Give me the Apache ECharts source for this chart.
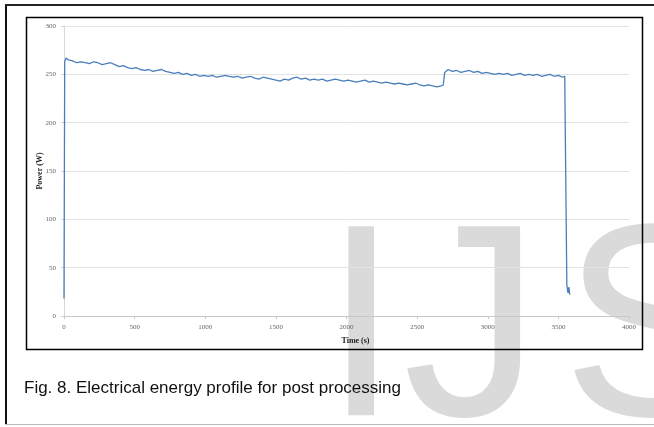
<!DOCTYPE html>
<html>
<head>
<meta charset="utf-8">
<script src="https://cdn.jsdelivr.net/npm/echarts@6/dist/echarts.min.js"></script>
<style>
html,body{margin:0;padding:0;background:#fff;}
#c{width:654px;height:427px;}
</style>
</head>
<body>
<div id="c"></div>
<script>
const times = [0,5,15,30,60,90,120,150,180,210,240,270,300,330,360,390,420,450,480,510,540,570,600,630,660,690,720,750,780,810,840,870,900,930,960,990,1020,1050,1080,1110,1140,1170,1200,1230,1260,1290,1320,1350,1380,1410,1440,1470,1500,1530,1560,1590,1620,1650,1680,1710,1740,1770,1800,1830,1860,1890,1920,1950,1980,2010,2040,2070,2100,2130,2160,2190,2220,2250,2280,2310,2340,2370,2400,2430,2460,2490,2520,2550,2580,2610,2640,2670,2685,2695,2720,2750,2780,2810,2840,2870,2900,2930,2960,2990,3020,3050,3080,3110,3140,3170,3200,3230,3260,3290,3320,3350,3380,3410,3440,3470,3500,3530,3545,3552,3560,3568,3575,3580];
const power = [18,263,267,265,264,262,263,262,261,263,262,260,261,262,260,258,259,257,256,257,255,254,255,253,254,255,253,252,251,252,250,251,249,250,248,249,248,249,247,248,249,248,247,248,246,247,248,246,245,247,246,245,244,243,245,244,246,247,245,246,244,245,244,245,243,244,245,244,243,244,243,242,243,244,242,243,242,241,242,241,240,241,240,239,240,241,239,238,239,238,237,238,239,252,255,253,254,252,253,254,252,253,251,252,251,250,251,250,251,249,250,251,249,250,249,250,248,249,250,248,249,247,248,246,32,24,30,22];
const xTicks = [0,500,1000,1500,2000,2500,3000,3500,4000];
const yTicks = [0,50,100,150,200,250,300];
const caption = "Fig. 8. Electrical energy profile for post processing";

const seriesData = times.map((t, i) => [t, power[i]]);
const chart = echarts.init(document.getElementById('c'), null, {renderer: 'canvas'});
const serif = '"Liberation Serif", "DejaVu Serif", serif';
const sans = '"Liberation Sans", Arial, sans-serif';
chart.setOption({
  animation: false,
  backgroundColor: 'transparent',
  grid: {left: 64, right: 25, top: 26, bottom: 111, containLabel: false},
  graphic: [
    {type: 'text', z: -10, left: 323, top: 202, style: {text: 'I', font: '275px ' + sans, fill: '#dadada'}},
    {type: 'text', z: -10, left: 403, top: 202, style: {text: 'J', font: '275px ' + sans, fill: '#dadada'}},
    {type: 'text', z: -10, left: 562, top: 202, style: {text: 'S', font: '275px ' + sans, fill: '#dadada'}},
    {type: 'rect', z: 10, shape: {x: 5, y: 4, width: 2, height: 421}, style: {fill: '#111'}},
    {type: 'rect', z: 10, shape: {x: 5, y: 4, width: 649, height: 2}, style: {fill: '#222'}},
    {type: 'rect', z: 10, shape: {x: 5, y: 424, width: 649, height: 1}, style: {fill: '#bbb'}},
    {type: 'rect', z: 10, shape: {x: 26.5, y: 17.5, width: 616, height: 332}, style: {fill: 'none', stroke: '#000', lineWidth: 1.5}},
    {type: 'text', z: 10, left: 24, top: 380, style: {text: caption, font: '17px ' + sans, fill: '#111'}}
  ],
  xAxis: {
    type: 'value', min: 0, max: 4000, interval: 500,
    name: 'Time (s)', nameLocation: 'middle', nameGap: 21, nameMoveOverlap: false,
    nameTextStyle: {fontFamily: serif, fontWeight: 'bold', fontSize: 8, color: '#222', padding: [0, 0, 0, 18]},
    axisLine: {show: true, lineStyle: {color: '#c8c8c8', width: 1}},
    axisTick: {show: true, length: 3, lineStyle: {color: '#c8c8c8'}},
    axisLabel: {fontFamily: serif, fontSize: 7, color: '#666', margin: 8,
      formatter: v => xTicks.includes(v) ? String(v) : ''},
    splitLine: {show: false}
  },
  yAxis: {
    type: 'value', min: 0, max: 300, interval: 50,
    name: 'Power (W)', nameLocation: 'middle', nameGap: 20, nameRotate: 90, nameMoveOverlap: false,
    nameTextStyle: {fontFamily: serif, fontWeight: 'bold', fontSize: 8, color: '#222'},
    axisLine: {show: true, lineStyle: {color: '#d8d8d8', width: 1}},
    axisTick: {show: true, length: 3, lineStyle: {color: '#d0d0d0'}},
    axisLabel: {fontFamily: serif, fontSize: 7, color: '#666', margin: 8,
      formatter: v => yTicks.includes(v) ? String(v) : ''},
    splitLine: {show: true, lineStyle: {color: '#e2e2e2', width: 1}}
  },
  series: [{
    type: 'line', data: seriesData, showSymbol: false, symbol: 'none',
    lineStyle: {color: '#4a7ebb', width: 1.3}, z: 5
  }]
});
</script>
</body>
</html>
